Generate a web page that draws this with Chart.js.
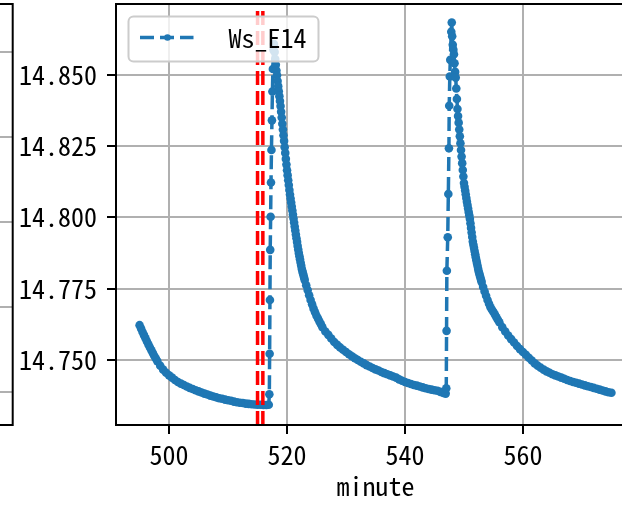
<!DOCTYPE html>
<html>
<head>
<meta charset="utf-8">
<script src="https://cdn.jsdelivr.net/npm/chart.js@4.4.1/dist/chart.umd.min.js"></script>
<style>
  html, body { margin: 0; padding: 0; width: 622px; height: 506px; overflow: hidden; background: #fff; }
  canvas { position: absolute; top: 0; }
  #main { left: 0; }
  #left { left: -20px; }
</style>
</head>
<body>
<canvas id="main" width="660" height="506"></canvas>
<canvas id="left" width="34" height="506"></canvas>
<script>
const FONT = '"Noto Sans Mono CJK SC", "DejaVu Sans Mono", monospace';

// time axis (minutes) and the Ws_E14 reading at each sample
const minute = [
  495, 495.25, 495.5, 495.75, 496, 496.25, 496.5, 496.75, 497, 497.25,
  497.5, 497.75, 498, 498.5, 499, 499.5, 500, 500.5, 501, 501.5,
  502, 502.5, 503, 503.5, 504, 504.5, 505, 505.5, 506, 506.5,
  507, 507.5, 508, 508.5, 509, 509.5, 510, 510.5, 511, 511.5,
  512, 512.5, 513, 513.5, 514, 514.5, 515, 515.5, 516, 516.5,
  516.9, 517, 517.05, 517.1, 517.15, 517.22, 517.28, 517.36, 517.44, 517.52,
  517.6, 517.7, 517.78, 517.9, 518, 518.1, 518.2, 518.3, 518.4, 518.5,
  518.6, 518.7, 518.8, 518.9, 519, 519.1, 519.2, 519.3, 519.4, 519.5,
  519.6, 519.7, 519.8, 519.9, 520, 520.1, 520.2, 520.3, 520.4, 520.5,
  520.6, 520.7, 520.8, 520.9, 521, 521.1, 521.2, 521.3, 521.4, 521.5,
  521.6, 521.7, 521.8, 521.9, 522, 522.1, 522.2, 522.3, 522.4, 522.5,
  522.6, 522.7, 522.8, 522.9, 523, 523.25, 523.5, 523.75, 524, 524.25,
  524.5, 524.75, 525, 525.25, 525.5, 525.75, 526, 526.5, 527, 527.5,
  528, 528.5, 529, 529.5, 530, 530.5, 531, 531.5, 532, 532.5,
  533, 533.5, 534, 534.5, 535, 535.5, 536, 536.5, 537, 537.5,
  538, 538.5, 539, 539.5, 540, 540.5, 541, 541.5, 542, 542.5,
  543, 543.5, 544, 544.5, 545, 545.5, 546, 546.5, 546.9, 547,
  547.05, 547.1, 547.25, 547.35, 547.45, 547.5, 547.6, 547.68, 547.85, 547.93,
  548, 548.1, 548.2, 548.3, 548.4, 548.5, 548.6, 548.7, 548.8, 548.9,
  549, 549.1, 549.2, 549.3, 549.4, 549.5, 549.6, 549.7, 549.8, 549.9,
  550, 550.1, 550.2, 550.3, 550.4, 550.5, 550.6, 550.7, 550.8, 550.9,
  551, 551.1, 551.2, 551.3, 551.4, 551.5, 551.6, 551.7, 551.8, 551.9,
  552, 552.1, 552.2, 552.3, 552.4, 552.5, 552.6, 552.7, 552.8, 552.9,
  553, 553.25, 553.5, 553.75, 554, 554.25, 554.5, 554.75, 555, 555.25,
  555.5, 555.75, 556, 556.5, 557, 557.5, 558, 558.5, 559, 559.5,
  560, 560.5, 561, 561.5, 562, 562.5, 563, 563.5, 564, 564.5,
  565, 565.5, 566, 566.5, 567, 567.5, 568, 568.5, 569, 569.5,
  570, 570.5, 571, 571.5, 572, 572.5, 573, 573.5, 574, 574.5,
  575
];
const wsE14 = [
  14.7622, 14.7610, 14.7598, 14.7587, 14.7576, 14.7565, 14.7554, 14.7544, 14.7534, 14.7524,
  14.7514, 14.7505, 14.7496, 14.7480, 14.7466, 14.7455, 14.7446, 14.7438, 14.7430, 14.7423,
  14.7417, 14.7412, 14.7407, 14.7402, 14.7398, 14.7394, 14.7390, 14.7386, 14.7382, 14.7379,
  14.7375, 14.7372, 14.7369, 14.7366, 14.7364, 14.7361, 14.7359, 14.7357, 14.7354, 14.7352,
  14.7350, 14.7349, 14.7347, 14.7346, 14.7345, 14.7344, 14.7343, 14.7343, 14.7342, 14.7342,
  14.7343, 14.7380, 14.7522, 14.7710, 14.7886, 14.8002, 14.8122, 14.8236, 14.8340, 14.8441,
  14.8520, 14.8587, 14.8608, 14.8580, 14.8555, 14.8535, 14.8515, 14.8498, 14.8478, 14.8460,
  14.8442, 14.8425, 14.8408, 14.8390, 14.8370, 14.8350, 14.8328, 14.8308, 14.8288, 14.8268,
  14.8246, 14.8226, 14.8205, 14.8185, 14.8165, 14.8148, 14.8130, 14.8113, 14.8096, 14.8080,
  14.8066, 14.8052, 14.8038, 14.8024, 14.8010, 14.7996, 14.7982, 14.7968, 14.7954, 14.7940,
  14.7927, 14.7914, 14.7900, 14.7887, 14.7875, 14.7864, 14.7853, 14.7842, 14.7831, 14.7820,
  14.7812, 14.7804, 14.7796, 14.7788, 14.7780, 14.7762, 14.7745, 14.7727, 14.7710, 14.7695,
  14.7680, 14.7667, 14.7655, 14.7645, 14.7635, 14.7625, 14.7615, 14.7600, 14.7588, 14.7575,
  14.7563, 14.7553, 14.7544, 14.7536, 14.7528, 14.7520, 14.7513, 14.7506, 14.7500, 14.7494,
  14.7488, 14.7482, 14.7477, 14.7472, 14.7467, 14.7463, 14.7458, 14.7454, 14.7450, 14.7446,
  14.7442, 14.7438, 14.7432, 14.7427, 14.7423, 14.7419, 14.7416, 14.7412, 14.7410, 14.7407,
  14.7404, 14.7401, 14.7398, 14.7396, 14.7394, 14.7392, 14.7388, 14.7384, 14.7382, 14.7401,
  14.7602, 14.7813, 14.7930, 14.8082, 14.8242, 14.8391, 14.8494, 14.8552, 14.8651, 14.8683,
  14.8635, 14.8605, 14.8588, 14.8572, 14.8540, 14.8510, 14.8490, 14.8452, 14.8415, 14.8380,
  14.8355, 14.8332, 14.8308, 14.8284, 14.8260, 14.8236, 14.8213, 14.8190, 14.8166, 14.8143,
  14.8120, 14.8107, 14.8094, 14.8081, 14.8068, 14.8055, 14.8043, 14.8031, 14.8019, 14.8007,
  14.7995, 14.7979, 14.7963, 14.7947, 14.7931, 14.7915, 14.7904, 14.7893, 14.7882, 14.7871,
  14.7860, 14.7850, 14.7840, 14.7830, 14.7820, 14.7810, 14.7803, 14.7795, 14.7788, 14.7780,
  14.7773, 14.7756, 14.7740, 14.7725, 14.7710, 14.7697, 14.7685, 14.7676, 14.7668, 14.7659,
  14.7650, 14.7641, 14.7632, 14.7615, 14.7600, 14.7586, 14.7573, 14.7561, 14.7549, 14.7538,
  14.7528, 14.7518, 14.7508, 14.7498, 14.7488, 14.7480, 14.7473, 14.7466, 14.7460, 14.7455,
  14.7450, 14.7446, 14.7442, 14.7438, 14.7434, 14.7430, 14.7426, 14.7423, 14.7420, 14.7417,
  14.7414, 14.7411, 14.7408, 14.7405, 14.7402, 14.7399, 14.7396, 14.7393, 14.7390, 14.7387,
  14.7385
];

// red event markers (vertical dashed lines)
const eventMinutes = [515.0, 515.9];

const xTicks = [500, 520, 540, 560];
const yTicks = [14.750, 14.775, 14.800, 14.825, 14.850];
const xRange = [491, 579];
const yRange = [14.7272, 14.8748];

// neighbouring panel on the left, only its right edge shows
const leftGrid = [0, 1, 2, 3, 4];
const leftRange = [-0.388, 4.565];

const blue = '#1f77b4';

// matplotlib style box: all four spines over the data
const frame = {
  id: 'frame',
  afterDatasetsDraw(chart) {
    const { ctx, chartArea: a } = chart;
    ctx.save();
    ctx.strokeStyle = '#000';
    ctx.lineWidth = 2;
    ctx.strokeRect(a.left, a.top, a.right - a.left, a.bottom - a.top);
    ctx.restore();
  }
};

// legend drawn inside the axes, upper left
const legendBox = {
  id: 'legendBox',
  afterDraw(chart) {
    const ds = chart.data.datasets.find(d => d.label);
    if (!ds) return;
    const { ctx, chartArea: a } = chart;
    const x = a.left + 12.5, y = a.top + 12.5;
    ctx.save();
    ctx.beginPath();
    ctx.roundRect(x, y, 190, 45, 5);
    ctx.fillStyle = 'rgba(255,255,255,0.8)';
    ctx.fill();
    ctx.strokeStyle = '#cccccc';
    ctx.lineWidth = 2;
    ctx.stroke();

    const cy = y + 21;
    ctx.beginPath();
    ctx.setLineDash(ds.borderDash);
    ctx.strokeStyle = ds.borderColor;
    ctx.lineWidth = ds.borderWidth;
    ctx.moveTo(x + 11.5, cy);
    ctx.lineTo(x + 65, cy);
    ctx.stroke();
    ctx.setLineDash([]);
    ctx.beginPath();
    ctx.arc(x + 39, cy, 3.3, 0, Math.PI * 2);
    ctx.fillStyle = ds.borderColor;
    ctx.fill();

    ctx.fillStyle = '#000';
    ctx.font = '26px ' + FONT;
    ctx.textBaseline = 'middle';
    ctx.fillText(ds.label, x + 100, cy + 1);
    ctx.restore();
  }
};

const series = minute.map((m, i) => ({ x: m, y: wsE14[i] }));

const eventLines = eventMinutes.map(m => ({
  data: [{ x: m, y: yRange[0] }, { x: m, y: yRange[1] }],
  borderColor: '#ff0000',
  borderWidth: 3.5,
  borderDash: [14, 6],
  pointRadius: 0,
  order: 1
}));

const tickFont = { family: FONT, size: 26 };

new Chart(document.getElementById('main'), {
  type: 'line',
  data: {
    datasets: [{
      label: 'Ws_E14',
      data: series,
      borderColor: blue,
      backgroundColor: blue,
      borderWidth: 3.5,
      borderDash: [14, 6],
      pointRadius: 4.3,
      pointBorderWidth: 0,
      pointBackgroundColor: blue,
      tension: 0,
      order: 2
    }, ...eventLines]
  },
  options: {
    responsive: false,
    animation: false,
    events: [],
    layout: { autoPadding: false, padding: { top: 4, right: 25, left: 0, bottom: 0 } },
    scales: {
      x: {
        type: 'linear',
        min: xRange[0],
        max: xRange[1],
        afterBuildTicks: s => { s.ticks = xTicks.map(v => ({ value: v })); },
        afterFit: s => { s.height = 81; s.paddingLeft = 0; s.paddingRight = 0; },
        grid: { color: '#b0b0b0', lineWidth: 2, tickColor: '#000', tickWidth: 2, tickLength: 9 },
        border: { color: '#000', width: 2 },
        ticks: { color: '#000', font: tickFont, padding: 6, maxRotation: 0 },
        title: { display: true, text: 'minute', color: '#000', font: tickFont, padding: { top: 0, bottom: 4 } }
      },
      y: {
        min: yRange[0],
        max: yRange[1],
        afterBuildTicks: s => { s.ticks = yTicks.map(v => ({ value: v })); },
        afterFit: s => { s.width = 116; s.paddingTop = 0; s.paddingBottom = 0; },
        grid: { color: '#b0b0b0', lineWidth: 2, tickColor: '#000', tickWidth: 2, tickLength: 9 },
        border: { color: '#000', width: 2 },
        ticks: { color: '#000', font: tickFont, padding: 10, callback: v => v.toFixed(3) }
      }
    },
    plugins: { legend: { display: false }, tooltip: { enabled: false } }
  },
  plugins: [frame, legendBox]
});

new Chart(document.getElementById('left'), {
  type: 'line',
  data: { datasets: [] },
  options: {
    responsive: false,
    animation: false,
    events: [],
    layout: { autoPadding: false, padding: { top: 4, right: 1.3, bottom: 81, left: 0 } },
    scales: {
      x: { type: 'linear', display: false, min: 0, max: 1 },
      y: {
        min: leftRange[0],
        max: leftRange[1],
        afterBuildTicks: s => { s.ticks = leftGrid.map(v => ({ value: v })); },
        afterFit: s => { s.width = 0; s.paddingTop = 0; s.paddingBottom = 0; },
        grid: { color: '#b0b0b0', lineWidth: 2, drawTicks: false },
        border: { display: false },
        ticks: { display: false }
      }
    },
    plugins: { legend: { display: false }, tooltip: { enabled: false } }
  },
  plugins: [frame]
});
</script>
</body>
</html>
